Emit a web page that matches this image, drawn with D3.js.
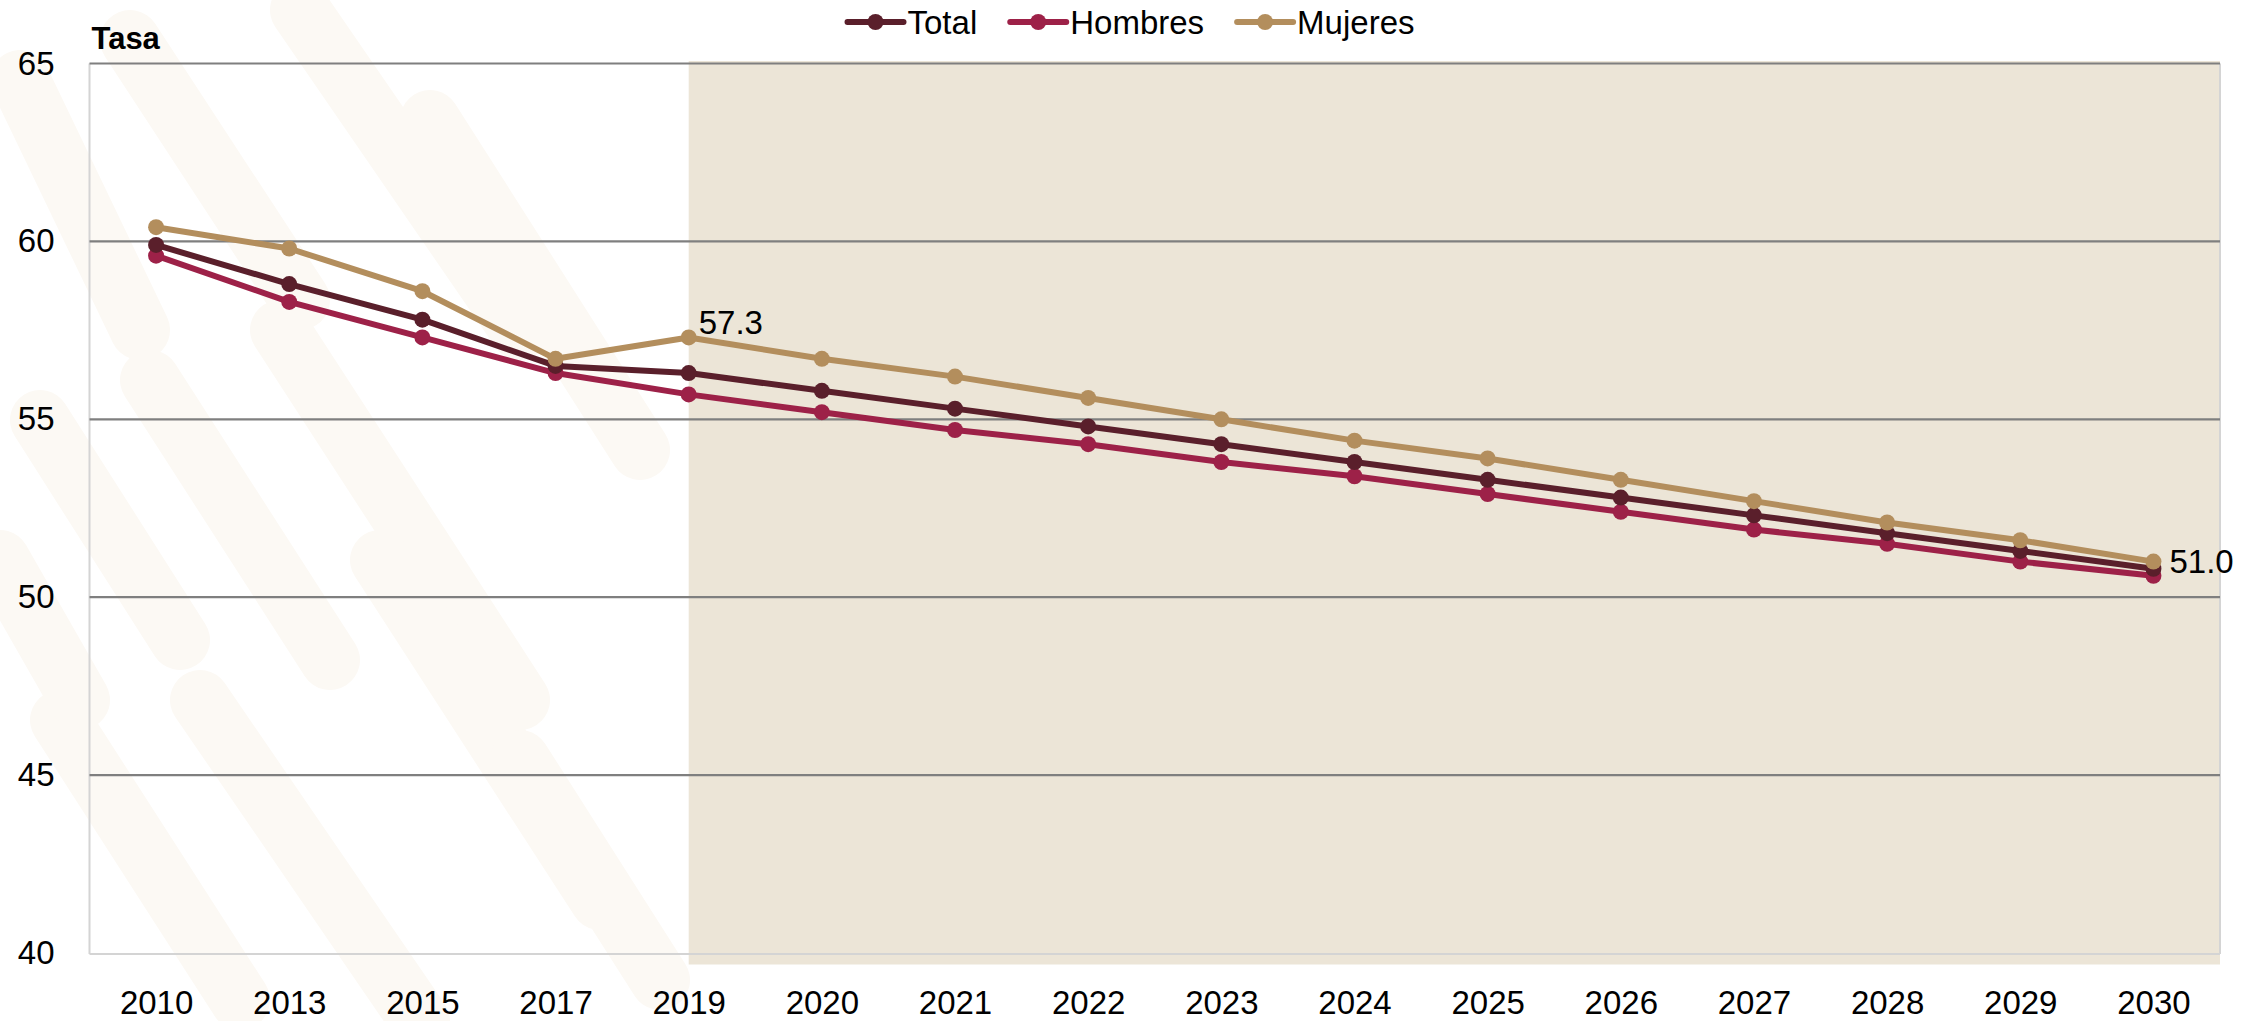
<!DOCTYPE html>
<html>
<head>
<meta charset="utf-8">
<script src="https://cdn.jsdelivr.net/npm/d3@7"></script>
<style>
  html, body { margin: 0; padding: 0; background: #ffffff; }
  svg { display: block; }
  text { font-family: "Liberation Sans", Arial, sans-serif; }
</style>
</head>
<body>
<svg id="chart" width="2264" height="1021"></svg>
<script>
// ---- data ----
const years = ["2010","2013","2015","2017","2019","2020","2021","2022","2023","2024","2025","2026","2027","2028","2029","2030"];
const total   = [59.9, 58.8, 57.8, 56.5, 56.3, 55.8, 55.3, 54.8, 54.3, 53.8, 53.3, 52.8, 52.3, 51.8, 51.3, 50.8];
const hombres = [59.6, 58.3, 57.3, 56.3, 55.7, 55.2, 54.7, 54.3, 53.8, 53.4, 52.9, 52.4, 51.9, 51.5, 51.0, 50.6];
const mujeres = [60.4, 59.8, 58.6, 56.7, 57.3, 56.7, 56.2, 55.6, 55.0, 54.4, 53.9, 53.3, 52.7, 52.1, 51.6, 51.0];
const seriesNames = ["Total", "Hombres", "Mujeres"];
const yTicks = [40, 45, 50, 55, 60, 65];
const projectionStart = "2019";
const yTitle = "Tasa";

// ---- style ----
const colors = { Total: "#5a1f2b", Hombres: "#9d2148", Mujeres: "#b38e5d" };
const W = 2264, H = 1021;
const plot = { left: 89.5, right: 2220, top: 63.5, bottom: 953 };
const FS = 33;

const svg = d3.select("#chart");

// very faint background watermark (decorative)
const wm = svg.append("g").attr("fill", "none").attr("stroke", "#fcf9f4").attr("stroke-linecap", "round");
const wmStrokes = [
  [20, 80, 140, 330], [130, 40, 300, 300], [300, 10, 520, 330], [430, 120, 640, 450],
  [40, 420, 180, 640], [150, 380, 330, 660], [280, 330, 520, 700], [380, 560, 600, 900],
  [60, 720, 240, 1000], [200, 700, 420, 1021], [520, 760, 660, 980], [0, 560, 80, 700]
];
wm.selectAll("line").data(wmStrokes).join("line")
  .attr("x1", d => d[0]).attr("y1", d => d[1]).attr("x2", d => d[2]).attr("y2", d => d[3])
  .attr("stroke-width", 60);

const x = d3.scalePoint().domain(years).range([plot.left, plot.right]).padding(0.5);
const y = d3.scaleLinear().domain([40, 65]).range([plot.bottom, plot.top]);

// projection shading
svg.append("rect")
  .attr("x", x(projectionStart))
  .attr("y", plot.top - 2.5)
  .attr("width", plot.right - x(projectionStart))
  .attr("height", plot.bottom - plot.top + 14)
  .attr("fill", "#ece5d7");

// plot borders (left, bottom, right)
svg.append("line").attr("x1", plot.left).attr("x2", plot.left).attr("y1", plot.top).attr("y2", plot.bottom + 1)
  .attr("stroke", "#d4d4d4").attr("stroke-width", 2);
svg.append("line").attr("x1", plot.right).attr("x2", plot.right).attr("y1", plot.top).attr("y2", plot.bottom + 1)
  .attr("stroke", "#d4d4d4").attr("stroke-width", 2);
svg.append("line").attr("x1", plot.left).attr("x2", plot.right).attr("y1", plot.bottom + 1).attr("y2", plot.bottom + 1)
  .attr("stroke", "#d4d4d4").attr("stroke-width", 2);

// y axis labels
const yAxis = d3.axisLeft(y).tickValues(yTicks).tickSize(0).tickPadding(0).tickFormat(d3.format("d"));
const gy = svg.append("g").attr("transform", `translate(${plot.left},0)`).call(yAxis);
gy.select(".domain").remove();
gy.selectAll("text")
  .attr("x", -35)
  .attr("font-size", FS)
  .attr("fill", "#000")
  .attr("font-family", null);

// gridlines
const grid = svg.append("g");
grid.selectAll("line").data(yTicks.filter(t => t > 40)).join("line")
  .attr("x1", plot.left).attr("x2", plot.right)
  .attr("y1", d => y(d)).attr("y2", d => y(d))
  .attr("stroke", "#7f7f7f").attr("stroke-width", 2.2);

// x axis labels
const xAxis = d3.axisBottom(x).tickSize(0).tickPadding(0);
const gx = svg.append("g").attr("transform", `translate(0,${plot.bottom})`).call(xAxis);
gx.select(".domain").remove();
gx.selectAll("text")
  .attr("y", 49)
  .attr("dy", "0.35em")
  .attr("font-size", FS)
  .attr("fill", "#000")
  .attr("font-family", null);

// y title
svg.append("text").attr("x", plot.left + 2).attr("y", 49)
  .attr("font-size", 31).attr("font-weight", "bold").attr("fill", "#000")
  .text(yTitle);

// series
const seriesData = { Total: total, Hombres: hombres, Mujeres: mujeres };
const line = d3.line().x((d, i) => x(years[i])).y(d => y(d));
const drawOrder = ["Hombres", "Total", "Mujeres"];
drawOrder.forEach(name => {
  const vals = seriesData[name];
  const g = svg.append("g");
  g.append("path").datum(vals)
    .attr("d", line)
    .attr("fill", "none")
    .attr("stroke", colors[name])
    .attr("stroke-width", 6)
    .attr("stroke-linejoin", "round");
  g.selectAll("circle").data(vals).join("circle")
    .attr("cx", (d, i) => x(years[i]))
    .attr("cy", d => y(d))
    .attr("r", 8)
    .attr("fill", colors[name]);
});

// data labels
const iStart = years.indexOf(projectionStart);
const iLast = years.length - 1;
svg.append("text")
  .attr("x", x(years[iStart]) + 10)
  .attr("y", y(mujeres[iStart]) - 3)
  .attr("font-size", FS).attr("fill", "#000")
  .text(d3.format(".1f")(mujeres[iStart]));
svg.append("text")
  .attr("x", x(years[iLast]) + 16)
  .attr("y", y(mujeres[iLast]))
  .attr("dy", "0.35em")
  .attr("font-size", FS).attr("fill", "#000")
  .text(d3.format(".1f")(mujeres[iLast]));

// legend
const legend = svg.append("g");
const legendY = 22;
const markerW = 56, textGap = 4, itemGap = 33;
let cx = 0;
seriesNames.forEach(name => {
  const g = legend.append("g");
  g.append("line").attr("x1", 0).attr("x2", markerW).attr("y1", 0).attr("y2", 0)
    .attr("stroke", colors[name]).attr("stroke-width", 6).attr("stroke-linecap", "round");
  g.append("circle").attr("cx", markerW / 2).attr("cy", 0).attr("r", 8).attr("fill", colors[name]);
  const t = g.append("text").attr("x", markerW + textGap).attr("dy", "0.35em")
    .attr("font-size", FS).attr("fill", "#000").text(name);
  const w = markerW + textGap + t.node().getComputedTextLength();
  g.attr("transform", `translate(${cx},${legendY})`);
  cx += w + itemGap;
});
const legendW = cx - itemGap;
legend.attr("transform", `translate(${1131 - legendW / 2},0)`);
</script>
</body>
</html>
